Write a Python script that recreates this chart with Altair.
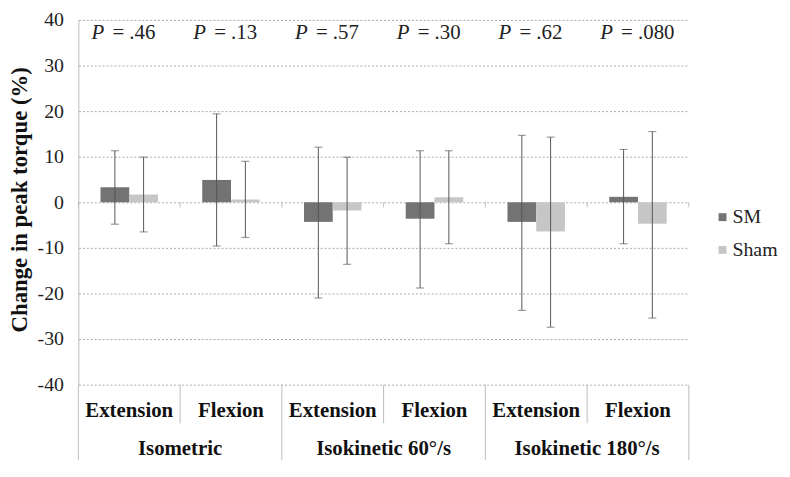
import altair as alt
import pandas as pd

# ---- data ----
modes = ["Isometric", "Isometric", "Isokinetic 60°/s", "Isokinetic 60°/s", "Isokinetic 180°/s", "Isokinetic 180°/s"]
moves = ["Extension", "Flexion", "Extension", "Flexion", "Extension", "Flexion"]
series = ["SM", "Sham"]
sm_mean = [3.3, 4.9, -4.3, -3.6, -4.3, 1.2]
sm_upper = [11.3, 19.4, 12.1, 11.3, 14.7, 11.6]
sm_lower = [-4.8, -9.6, -21.0, -18.8, -23.7, -9.1]
sham_mean = [1.7, 0.6, -1.8, 1.1, -6.4, -4.7]
sham_upper = [9.9, 9.0, 9.9, 11.3, 14.3, 15.5]
sham_lower = [-6.5, -7.7, -13.6, -9.1, -27.4, -25.4]
p_rest = ["= .46", "= .13", "= .57", "= .30", "=  .62", "= .080"]
y_ticks = [-40, -30, -20, -10, 0, 10, 20, 30, 40]
colors = ["#737373", "#c6c6c6"]

cats = [f"{m}|{v}" for m, v in zip(modes, moves)]

rows = []
for i, c in enumerate(cats):
    rows.append(dict(cond=c, series="SM", mean=sm_mean[i], lo=sm_lower[i], hi=sm_upper[i]))
    rows.append(dict(cond=c, series="Sham", mean=sham_mean[i], lo=sham_lower[i], hi=sham_upper[i]))
df = pd.DataFrame(rows)
cat_df = pd.DataFrame(dict(cond=cats, mode=modes, move=moves, prest=p_rest, P=["P"] * 6))

W, H = 616, 368
FONT = "Liberation Serif"
GRID = "#a8a8a8"
SEP = "#bdbdbd"
LEG_Y = [199, 232]


def X(**kw):
    return alt.X("cond:N", sort=cats,
                 scale=alt.Scale(domain=cats, paddingInner=0, paddingOuter=0),
                 axis=None, **kw)


xoff = alt.XOffset("series:N", sort=series,
                   scale=alt.Scale(domain=series, paddingInner=0, paddingOuter=0.77))
yscale = alt.Scale(domain=[-40, 40], nice=False, zero=False)
cscale = alt.Scale(domain=series, range=colors)

bars = alt.Chart(df).mark_bar().encode(
    x=X(),
    xOffset=xoff,
    y=alt.Y("mean:Q", scale=yscale,
            axis=alt.Axis(values=y_ticks, title="Change in peak torque (%)",
                          grid=True, gridDash=[2, 2], gridColor=GRID, gridWidth=1,
                          ticks=False, domain=True, domainColor=SEP,
                          labelFont=FONT, labelFontSize=20, labelColor="#222",
                          labelPadding=15,
                          labelExpr="toString(datum.value)",
                          titleFont=FONT, titleFontSize=23, titleFontWeight="bold",
                          titleColor="#111", titleX=-59, titleY=H / 2 - 3,
                          titleAlign="center", titleBaseline="middle", titleAngle=-90)),
    color=alt.Color("series:N", sort=series, scale=cscale, legend=None),
)

leg_df = pd.DataFrame(dict(series=series))
leg_layers = []
for s, yy in zip(series, LEG_Y):
    base = alt.Chart(leg_df).transform_filter(alt.datum.series == s)
    leg_layers.append(base.mark_square(size=64, opacity=1).encode(
        x=alt.value(650), y=alt.value(yy),
        color=alt.Color("series:N", sort=series, scale=cscale, legend=None)))
    leg_layers.append(base.mark_text(font=FONT, fontSize=20, align="left", baseline="middle",
                                     color="#222").encode(
        x=alt.value(660), y=alt.value(yy), text="series:N"))

err = alt.Chart(df).mark_rule(color="#555", strokeWidth=1).encode(
    x=X(), xOffset=xoff, y=alt.Y("lo:Q", scale=yscale), y2="hi:Q")
cap_hi = alt.Chart(df).mark_tick(color="#555", size=8, thickness=1, orient="horizontal").encode(
    x=X(), xOffset=xoff, y=alt.Y("hi:Q", scale=yscale))
cap_lo = alt.Chart(df).mark_tick(color="#555", size=8, thickness=1, orient="horizontal").encode(
    x=X(), xOffset=xoff, y=alt.Y("lo:Q", scale=yscale))

p_ital = alt.Chart(cat_df).mark_text(font=FONT, fontSize=21, fontStyle="italic", align="left",
                                     baseline="middle", dx=-38, color="#222").encode(
    x=X(), y=alt.value(13), text="P:N")
p_txt = alt.Chart(cat_df).mark_text(font=FONT, fontSize=21, align="left",
                                    baseline="middle", dx=-17, color="#222").encode(
    x=X(), y=alt.value(13), text="prest:N")

move_txt = alt.Chart(cat_df).mark_text(font=FONT, fontSize=21, fontWeight="bold",
                                       baseline="middle", color="#111").encode(
    x=X(), y=alt.value(H + 27), text="move:N")

flex_df = cat_df[cat_df["move"] == "Flexion"]
ext_df = cat_df[cat_df["move"] == "Extension"]
last_df = cat_df.tail(1)

mode_txt = alt.Chart(flex_df).mark_text(font=FONT, fontSize=21, fontWeight="bold",
                                        baseline="middle", color="#111").encode(
    x=X(bandPosition=0), y=alt.value(H + 65), text="mode:N")

sep_short = alt.Chart(flex_df).mark_rule(color=SEP, strokeWidth=1).encode(
    x=X(bandPosition=0), y=alt.value(H), y2=alt.value(H + 39))
sep_long = alt.Chart(ext_df).mark_rule(color=SEP, strokeWidth=1).encode(
    x=X(bandPosition=0), y=alt.value(H), y2=alt.value(H + 76))
sep_end = alt.Chart(last_df).mark_rule(color=SEP, strokeWidth=1).encode(
    x=X(bandPosition=1), y=alt.value(H), y2=alt.value(H + 76))

zero_ticks = alt.Chart(cat_df).mark_rule(color=SEP, strokeWidth=1).encode(
    x=X(bandPosition=0), y=alt.Y("z0:Q", scale=yscale), y2="z1:Q"
).transform_calculate(z0="0", z1="-1.1")
zero_end = alt.Chart(last_df).mark_rule(color=SEP, strokeWidth=1).encode(
    x=X(bandPosition=1), y=alt.Y("z0:Q", scale=yscale), y2="z1:Q"
).transform_calculate(z0="0", z1="-1.1")

chart = alt.layer(
    bars, zero_ticks, zero_end, err, cap_hi, cap_lo, p_ital, p_txt,
    move_txt, mode_txt, sep_short, sep_long, sep_end, *leg_layers
).properties(
    width=W, height=H,
    autosize=alt.AutoSizeParams(type="none"),
    padding={"left": 71, "top": 10, "right": 94, "bottom": 74},
    background="white",
).configure(font=FONT).configure_axis(
    labelFont=FONT, titleFont=FONT
).configure_view(stroke=None)

chart.save("out.html", embed_options={"renderer": "svg", "actions": False})
